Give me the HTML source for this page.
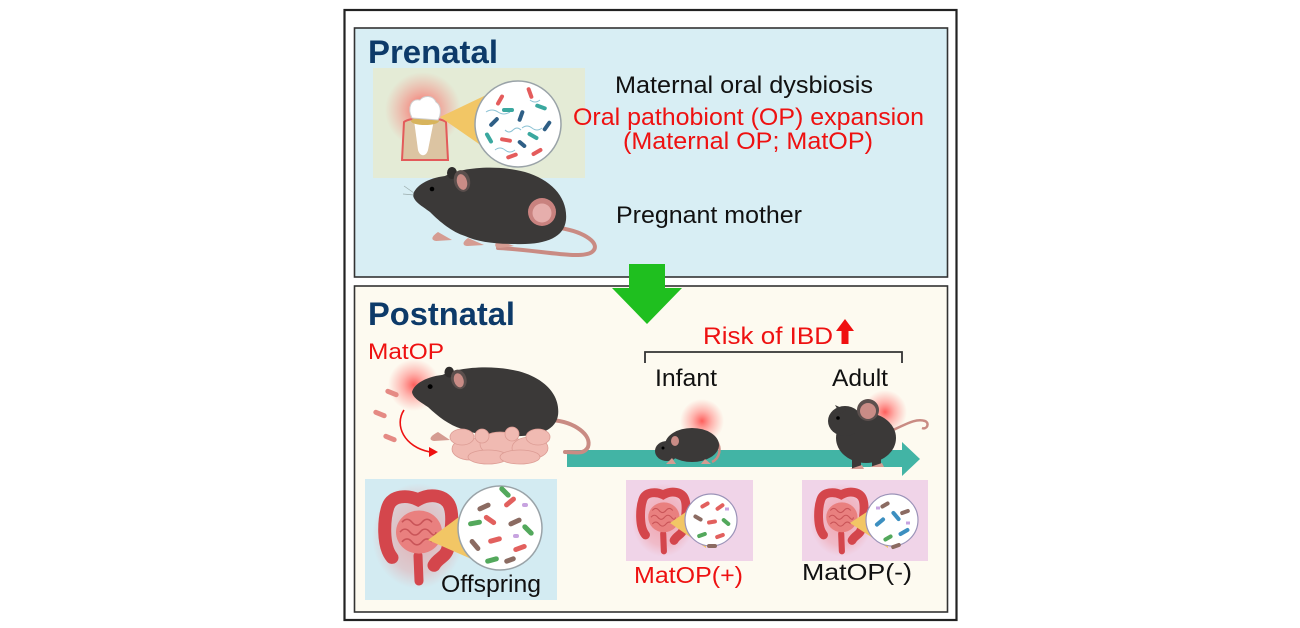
<!DOCTYPE html>
<html><head><meta charset="utf-8">
<style>
html,body{margin:0;padding:0;background:#fff;}
svg{display:block;}
text{font-family:"Liberation Sans",Arial,sans-serif;}
</style></head>
<body>
<svg width="1300" height="628" viewBox="0 0 1300 628" xmlns="http://www.w3.org/2000/svg">
<defs>
  <radialGradient id="glow">
    <stop offset="0" stop-color="#ff2a2a" stop-opacity="0.75"/>
    <stop offset="0.45" stop-color="#ff4a4a" stop-opacity="0.4"/>
    <stop offset="1" stop-color="#ff6060" stop-opacity="0"/>
  </radialGradient>
  <radialGradient id="gutglow">
    <stop offset="0" stop-color="#f07070" stop-opacity="0.5"/>
    <stop offset="0.7" stop-color="#f08080" stop-opacity="0.3"/>
    <stop offset="1" stop-color="#f09090" stop-opacity="0"/>
  </radialGradient>
  <g id="gut">
    <ellipse cx="40" cy="50" rx="46" ry="54" fill="url(#gutglow)"/>
    <path d="M14,72 C4,60 6,32 10,20 C14,8 30,8 40,13 C52,6 68,8 72,20 C76,32 72,52 70,62 C68,72 60,72 56,80" fill="none" stroke="#d4464c" stroke-width="13" stroke-linecap="round"/>
    <path d="M40,70 L41,96" fill="none" stroke="#d4464c" stroke-width="9" stroke-linecap="round"/>
    <ellipse cx="41" cy="46" rx="23" ry="22" fill="#e9807f"/>
    <path d="M24,36 q5,-6 10,0 t10,0 t10,0 M22,46 q5,-6 10,0 t10,0 t10,0 t6,0 M24,56 q5,-6 10,0 t10,0 t10,0" fill="none" stroke="#c95458" stroke-width="1.6"/>
  </g>
  <path id="mbody" d="M413,195 C415,186 428,178 445,176 C460,168 495,164 525,172 C552,180 568,198 566,220 C564,238 545,245 515,244 C495,244 478,242 465,236 C452,232 440,222 430,212 C422,206 414,202 413,195 Z"/>
</defs>

<rect x="344.5" y="10" width="612" height="610" fill="#fff" stroke="#222" stroke-width="2.2"/>
<rect x="354.5" y="28" width="593" height="249" fill="#d8eef4" stroke="#333" stroke-width="1.6"/>
<rect x="354.5" y="286" width="593" height="326" fill="#fdfaf0" stroke="#333" stroke-width="1.6"/>

<!-- TOP PANEL -->
<text x="368" y="63" font-size="32" font-weight="bold" fill="#0d3a69" textLength="130" lengthAdjust="spacingAndGlyphs">Prenatal</text>

<rect x="373" y="68" width="212" height="110" fill="#e4ebd6"/>
<circle cx="423" cy="110" r="38" fill="url(#glow)"/>
<path d="M402,160 L404,122 C410,117 440,117 446,122 L448,160 Z" fill="#dcc4a2" stroke="#e35a5a" stroke-width="2"/>
<path d="M414,120 L418,150 C420,157 426,157 428,150 L434,120 Z" fill="#fff"/>
<ellipse cx="425" cy="121" rx="14" ry="4" fill="#d8b45c"/>
<path d="M412,118 C407,108 411,98 420,100 C424,95 433,95 436,102 C442,106 441,115 438,120 Z" fill="#fff" stroke="#cfcfcf" stroke-width="1"/>
<polygon points="440,117 505,86 505,162" fill="#f2c665"/>
<circle cx="518" cy="124" r="43" fill="#fff" stroke="#9aa3a8" stroke-width="1.5"/>
<g stroke="#8cc2d4" stroke-width="1" fill="none">
  <path d="M486,112 q6,-4 12,0 t12,0"/><path d="M522,128 q5,-4 10,0 t10,0"/><path d="M495,150 q5,-4 10,0 t10,0"/><path d="M530,100 q5,4 10,0"/><path d="M505,130 q4,4 8,0 t8,0"/>
</g>
<g>
  <rect x="-6" y="-2" width="12" height="4" rx="2" fill="#e45c5c" transform="translate(500,100) rotate(-60)"/>
  <rect x="-6" y="-2" width="12" height="4" rx="2" fill="#e45c5c" transform="translate(530,93) rotate(70)"/>
  <rect x="-6" y="-2" width="12" height="4" rx="2" fill="#2f5f86" transform="translate(494,122) rotate(-45)"/>
  <rect x="-6" y="-2" width="12" height="4" rx="2" fill="#3aa89f" transform="translate(541,107) rotate(20)"/>
  <rect x="-6" y="-2" width="12" height="4" rx="2" fill="#2f5f86" transform="translate(521,116) rotate(-70)"/>
  <rect x="-6" y="-2" width="12" height="4" rx="2" fill="#e45c5c" transform="translate(506,140) rotate(10)"/>
  <rect x="-6" y="-2" width="12" height="4" rx="2" fill="#3aa89f" transform="translate(533,136) rotate(30)"/>
  <rect x="-6" y="-2" width="12" height="4" rx="2" fill="#2f5f86" transform="translate(547,126) rotate(-55)"/>
  <rect x="-6" y="-2" width="12" height="4" rx="2" fill="#e45c5c" transform="translate(512,156) rotate(-20)"/>
  <rect x="-6" y="-2" width="12" height="4" rx="2" fill="#e45c5c" transform="translate(537,152) rotate(-30)"/>
  <rect x="-6" y="-2" width="12" height="4" rx="2" fill="#3aa89f" transform="translate(489,138) rotate(60)"/>
  <rect x="-6" y="-2" width="12" height="4" rx="2" fill="#3aa89f" transform="translate(508,110) rotate(0)"/>
  <rect x="-5" y="-2" width="10" height="4" rx="2" fill="#2f5f86" transform="translate(522,144) rotate(40)"/>
</g>

<!-- pregnant mouse -->
<path d="M560,228 C585,232 602,244 592,252 C580,260 540,250 498,248" fill="none" stroke="#c98b83" stroke-width="4" stroke-linecap="round"/>
<path d="M438,232 C432,236 430,240 436,241 L452,240 Z M468,238 C462,242 462,246 468,246 L484,245 Z M498,240 C494,244 494,248 500,248 L514,246 Z" fill="#d59c92"/>
<use href="#mbody" fill="#3b3938"/>
<ellipse cx="452" cy="173" rx="5" ry="6" fill="#2f2d2c"/>
<ellipse cx="462" cy="181" rx="8" ry="11" fill="#5b4f4d" transform="rotate(-15 462 181)"/>
<ellipse cx="462" cy="182" rx="5" ry="8" fill="#c98c86" transform="rotate(-15 462 182)"/>
<circle cx="432" cy="189" r="2.3" fill="#000"/>
<circle cx="542" cy="212" r="14" fill="#c9827f"/>
<circle cx="542" cy="213" r="9.5" fill="#e6aeac"/>
<g stroke="#9aa" stroke-width="0.7"><line x1="414" y1="193" x2="404" y2="186"/><line x1="414" y1="195" x2="403" y2="194"/></g>

<text x="615" y="93" font-size="24" fill="#111" textLength="258" lengthAdjust="spacingAndGlyphs">Maternal oral dysbiosis</text>
<text x="573" y="125" font-size="24.5" fill="#ee1111" textLength="351" lengthAdjust="spacingAndGlyphs">Oral pathobiont (OP) expansion</text>
<text x="623" y="149" font-size="24.5" fill="#ee1111" textLength="250" lengthAdjust="spacingAndGlyphs">(Maternal OP; MatOP)</text>
<text x="616" y="223" font-size="24" fill="#111" textLength="186" lengthAdjust="spacingAndGlyphs">Pregnant mother</text>

<!-- BOTTOM PANEL -->
<rect x="629" y="264" width="36" height="26" fill="#1fbf1f"/>
<polygon points="612,288 682,288 647,324" fill="#1fbf1f"/>

<text x="368" y="325" font-size="32" font-weight="bold" fill="#0d3a69" textLength="147" lengthAdjust="spacingAndGlyphs">Postnatal</text>
<text x="368" y="359" font-size="22" fill="#ee1111" textLength="76" lengthAdjust="spacingAndGlyphs">MatOP</text>

<text x="703" y="344" font-size="24.5" fill="#ee1111" textLength="130" lengthAdjust="spacingAndGlyphs">Risk of IBD</text>
<rect x="841.5" y="329" width="7" height="15" fill="#f01010"/>
<polygon points="836,331 845,319 854,331" fill="#f01010"/>
<path d="M645,363 L645,352 L902,352 L902,363" fill="none" stroke="#333" stroke-width="1.8"/>
<text x="655" y="386" font-size="24" fill="#111" textLength="62" lengthAdjust="spacingAndGlyphs">Infant</text>
<text x="832" y="386" font-size="24" fill="#111" textLength="56" lengthAdjust="spacingAndGlyphs">Adult</text>

<rect x="567" y="450" width="337" height="17" fill="#42b4a5"/>
<polygon points="902,442 920,459 902,476" fill="#42b4a5"/>

<!-- mother mouse bottom -->
<circle cx="414" cy="385" r="26" fill="url(#glow)"/>
<g fill="#e58a84">
  <rect x="-7" y="-2.5" width="14" height="5" rx="2.5" transform="translate(392,393) rotate(22)"/>
  <rect x="-7" y="-2.5" width="14" height="5" rx="2.5" transform="translate(380,414) rotate(22)"/>
  <rect x="-7" y="-2.5" width="14" height="5" rx="2.5" transform="translate(390,438) rotate(22)"/>
</g>
<path d="M404,410 C394,425 404,447 430,452" fill="none" stroke="#ee1111" stroke-width="1.6"/>
<polygon points="429,447 438,452 429,457" fill="#ee1111"/>
<path d="M552,420 C575,422 592,435 588,447 C584,455 575,452 565,452" fill="none" stroke="#c98b83" stroke-width="4" stroke-linecap="round"/>
<path d="M438,432 C430,436 428,440 434,441 L450,440 Z" fill="#d59c92"/>
<g transform="translate(412,392) scale(0.955,0.9) translate(-413,-195)">
  <use href="#mbody" fill="#3b3938"/>
  <ellipse cx="452" cy="173" rx="5" ry="6" fill="#2f2d2c"/>
  <ellipse cx="462" cy="181" rx="8" ry="11" fill="#5b4f4d" transform="rotate(-15 462 181)"/>
  <ellipse cx="462" cy="182" rx="5" ry="8" fill="#c98c86" transform="rotate(-15 462 182)"/>
  <circle cx="432" cy="189" r="2.6" fill="#000"/>
</g>
<!-- pups -->
<g fill="#f0bab2" stroke="#dc9c94" stroke-width="0.8">
  <ellipse cx="470" cy="449" rx="18" ry="11"/>
  <ellipse cx="500" cy="444" rx="20" ry="12"/>
  <ellipse cx="530" cy="448" rx="18" ry="11"/>
  <ellipse cx="488" cy="457" rx="20" ry="7"/>
  <ellipse cx="520" cy="457" rx="20" ry="7"/>
  <ellipse cx="538" cy="437" rx="12" ry="8"/>
  <ellipse cx="462" cy="437" rx="12" ry="8"/>
  <circle cx="482" cy="436" r="7"/>
  <circle cx="512" cy="434" r="7"/>
</g>

<!-- infant mouse -->
<circle cx="702" cy="421" r="22" fill="url(#glow)"/>
<path d="M716,440 C722,448 720,458 712,462" fill="none" stroke="#c98b83" stroke-width="2.5"/>
<ellipse cx="692" cy="445" rx="27" ry="17" fill="#3b3938"/>
<ellipse cx="667" cy="451" rx="12" ry="10" fill="#3b3938"/>
<ellipse cx="675" cy="441" rx="4" ry="5" fill="#c98c86"/>
<circle cx="663" cy="448" r="1.5" fill="#000"/>
<path d="M672,458 l-6,6 l10,0 Z M705,459 l-4,5 l10,0 Z" fill="#d59c92"/>

<!-- adult mouse -->
<circle cx="885" cy="412" r="22" fill="url(#glow)"/>
<path d="M893,430 C905,425 915,418 925,421 C930,423 927,430 922,428" fill="none" stroke="#c98b83" stroke-width="2.5"/>
<ellipse cx="866" cy="438" rx="30" ry="25" fill="#3b3938"/>
<rect x="852" y="455" width="9" height="14" fill="#3b3938"/>
<rect x="872" y="455" width="9" height="12" fill="#3b3938"/>
<path d="M850,469 l14,0 l-2,-4 Z M870,467 l14,0 l-2,-4 Z" fill="#d59c92"/>
<ellipse cx="845" cy="421" rx="17" ry="15" fill="#3b3938"/>
<polygon points="835,405 846,410 840,414" fill="#3b3938"/>
<circle cx="868" cy="410" r="11" fill="#5b4f4d"/>
<circle cx="868" cy="411" r="8" fill="#c98c86"/>
<circle cx="838" cy="418" r="1.8" fill="#000"/>

<!-- offspring box -->
<rect x="365" y="479" width="192" height="121" fill="#d3ebf2"/>
<use href="#gut" transform="translate(378,487) scale(1,0.98)"/>
<polygon points="428,540 495,490 492,568" fill="#f2c665"/>
<circle cx="500" cy="528" r="42" fill="#fff" stroke="#9aa3a8" stroke-width="1.5"/>
<g>
  <rect x="-7" y="-2.5" width="14" height="5" rx="2.5" fill="#8b6b62" transform="translate(484,507) rotate(-25)"/>
  <rect x="-7" y="-2.5" width="14" height="5" rx="2.5" fill="#e2605e" transform="translate(510,502) rotate(-40)"/>
  <rect x="-7" y="-2.5" width="14" height="5" rx="2.5" fill="#53a85c" transform="translate(505,492) rotate(45)"/>
  <rect x="-7" y="-2.5" width="14" height="5" rx="2.5" fill="#e2605e" transform="translate(490,520) rotate(35)"/>
  <rect x="-7" y="-2.5" width="14" height="5" rx="2.5" fill="#8b6b62" transform="translate(515,522) rotate(-25)"/>
  <rect x="-7" y="-2.5" width="14" height="5" rx="2.5" fill="#53a85c" transform="translate(528,530) rotate(45)"/>
  <rect x="-7" y="-2.5" width="14" height="5" rx="2.5" fill="#53a85c" transform="translate(475,523) rotate(-10)"/>
  <rect x="-7" y="-2.5" width="14" height="5" rx="2.5" fill="#e2605e" transform="translate(495,540) rotate(-15)"/>
  <rect x="-7" y="-2.5" width="14" height="5" rx="2.5" fill="#8b6b62" transform="translate(475,545) rotate(50)"/>
  <rect x="-7" y="-2.5" width="14" height="5" rx="2.5" fill="#e2605e" transform="translate(520,548) rotate(-20)"/>
  <rect x="-7" y="-2.5" width="14" height="5" rx="2.5" fill="#53a85c" transform="translate(492,560) rotate(-15)"/>
  <rect x="-6" y="-2.5" width="12" height="5" rx="2.5" fill="#8b6b62" transform="translate(510,560) rotate(-20)"/>
  <rect x="-3" y="-2" width="6" height="4" rx="2" fill="#c7a3e0" transform="translate(525,505)"/>
  <rect x="-3" y="-2" width="6" height="4" rx="2" fill="#c7a3e0" transform="translate(516,536)"/>
</g>
<text x="441" y="592" font-size="24" fill="#111" textLength="100" lengthAdjust="spacingAndGlyphs">Offspring</text>

<!-- MatOP(+) box -->
<rect x="626" y="480" width="127" height="81" fill="#f0d4e8"/>
<use href="#gut" transform="translate(636,486) scale(0.68,0.68)"/>
<polygon points="670,523 706,498 706,548" fill="#f2c665"/>
<circle cx="711" cy="520" r="26" fill="#fff" stroke="#9b93b8" stroke-width="1.2"/>
<g>
  <rect x="-5" y="-2" width="10" height="4" rx="2" fill="#e2605e" transform="translate(705,505) rotate(-30)"/>
  <rect x="-5" y="-2" width="10" height="4" rx="2" fill="#e2605e" transform="translate(720,507) rotate(-35)"/>
  <rect x="-5" y="-2" width="10" height="4" rx="2" fill="#8b6b62" transform="translate(698,518) rotate(30)"/>
  <rect x="-5" y="-2" width="10" height="4" rx="2" fill="#e2605e" transform="translate(712,522) rotate(-10)"/>
  <rect x="-5" y="-2" width="10" height="4" rx="2" fill="#53a85c" transform="translate(726,522) rotate(40)"/>
  <rect x="-5" y="-2" width="10" height="4" rx="2" fill="#53a85c" transform="translate(702,535) rotate(-20)"/>
  <rect x="-5" y="-2" width="10" height="4" rx="2" fill="#e2605e" transform="translate(720,536) rotate(-20)"/>
  <rect x="-5" y="-2" width="10" height="4" rx="2" fill="#8b6b62" transform="translate(712,546) rotate(0)"/>
  <rect x="-2" y="-1.5" width="4" height="3" fill="#c7a3e0" transform="translate(727,509)"/>
</g>
<text x="634" y="583" font-size="23" fill="#ee1111" textLength="109" lengthAdjust="spacingAndGlyphs">MatOP(+)</text>

<!-- MatOP(-) box -->
<rect x="802" y="480" width="126" height="81" fill="#f0d4e8"/>
<use href="#gut" transform="translate(814,486) scale(0.68,0.68)"/>
<polygon points="850,523 888,498 888,548" fill="#f2c665"/>
<circle cx="892" cy="520" r="26" fill="#fff" stroke="#9b93b8" stroke-width="1.2"/>
<g>
  <rect x="-5" y="-2" width="10" height="4" rx="2" fill="#8b6b62" transform="translate(885,505) rotate(-30)"/>
  <rect x="-6" y="-2" width="12" height="4" rx="2" fill="#3c8fc0" transform="translate(896,516) rotate(50)"/>
  <rect x="-6" y="-2" width="12" height="4" rx="2" fill="#3c8fc0" transform="translate(880,522) rotate(-40)"/>
  <rect x="-6" y="-2" width="12" height="4" rx="2" fill="#3c8fc0" transform="translate(904,532) rotate(-30)"/>
  <rect x="-5" y="-2" width="10" height="4" rx="2" fill="#53a85c" transform="translate(888,538) rotate(-30)"/>
  <rect x="-5" y="-2" width="10" height="4" rx="2" fill="#8b6b62" transform="translate(905,512) rotate(-20)"/>
  <rect x="-5" y="-2" width="10" height="4" rx="2" fill="#8b6b62" transform="translate(896,546) rotate(-20)"/>
  <rect x="-2" y="-1.5" width="4" height="3" fill="#c7a3e0" transform="translate(878,508)"/>
  <rect x="-2" y="-1.5" width="4" height="3" fill="#c7a3e0" transform="translate(908,523)"/>
</g>
<text x="802" y="580" font-size="23" fill="#111" textLength="110" lengthAdjust="spacingAndGlyphs">MatOP(-)</text>
</svg>
</body></html>
